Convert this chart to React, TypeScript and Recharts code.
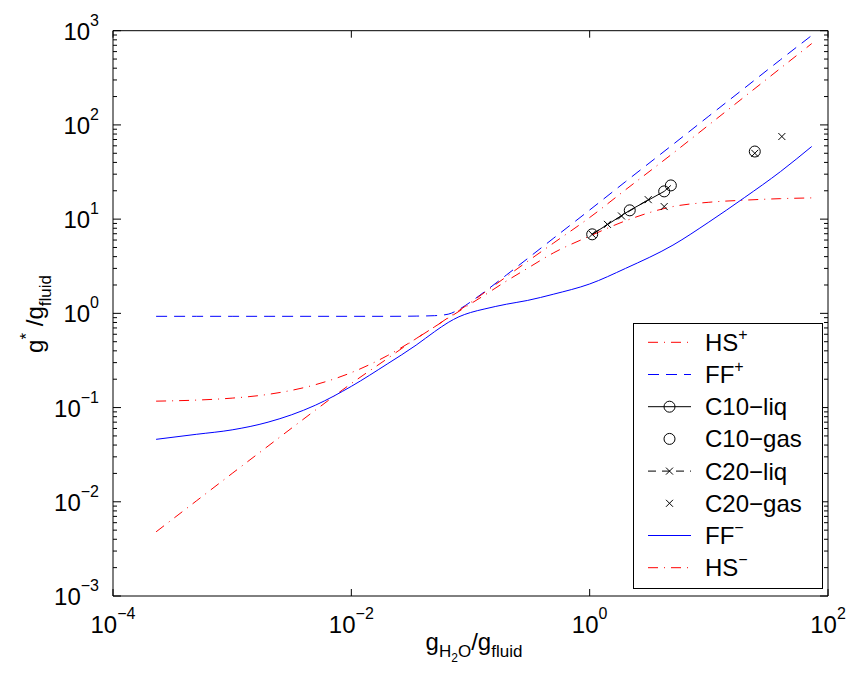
import React from 'react';
import { ComposedChart, Line, Scatter, XAxis, YAxis, Legend, ReferenceArea } from 'recharts';

// ---------- data ----------
const gRatio = [2.3e-4, 5e-4, 1e-3, 2e-3, 5e-3, 0.01, 0.02, 0.035, 0.05, 0.065, 0.08, 0.1, 0.13, 0.2, 0.3, 0.5, 1, 2, 5, 10, 20, 40, 73];
const hsPlus = [0.117, 0.12, 0.126, 0.138, 0.175, 0.235, 0.355, 0.54, 0.72, 0.9, 1.07, 1.3, 1.65, 2.45, 3.55, 5.6, 10.4, 20.5, 50, 100, 200, 400, 730];
const ffPlus = [0.93, 0.93, 0.93, 0.93, 0.93, 0.93, 0.93, 0.935, 0.945, 0.98, 1.1, 1.32, 1.68, 2.55, 3.8, 6.3, 12.5, 25, 62, 124, 247, 493, 890];
const ffMinus = [0.046, 0.052, 0.058, 0.07, 0.106, 0.168, 0.29, 0.46, 0.64, 0.8, 0.92, 1.02, 1.11, 1.25, 1.37, 1.6, 2.05, 3.0, 5.3, 9.3, 17, 32, 59];
const hsMinus = [0.0048, 0.0102, 0.02, 0.039, 0.094, 0.18, 0.33, 0.54, 0.72, 0.89, 1.05, 1.26, 1.55, 2.2, 3.0, 4.4, 6.6, 9.6, 13.6, 15.1, 15.9, 16.5, 16.8];

const c10LiqX = [1.05, 2.17, 4.22, 4.8];
const c10LiqY = [6.9, 12.4, 19.7, 22.8];
const c10GasX = [24.3];
const c10GasY = [52.2];
const c20LiqX = [1.05, 1.41, 1.85, 3.1];
const c20LiqY = [6.9, 8.8, 10.8, 16.1];
const c20GasX = [4.22, 24.3, 41];
const c20GasY = [13.6, 50, 75.3];

const xTicks = [1e-4, 1e-2, 1, 100];
const yDecades = [-3, -2, -1, 0, 1, 2, 3];
const yMinorMult = [1, 2, 3, 4, 5, 6, 7, 8, 9];

const legendLabels = [
  { base: 'HS', sup: '+' },
  { base: 'FF', sup: '+' },
  { base: 'C10\u2212liq', sup: '' },
  { base: 'C10\u2212gas', sup: '' },
  { base: 'C20\u2212liq', sup: '' },
  { base: 'C20\u2212gas', sup: '' },
  { base: 'FF', sup: '\u2212' },
  { base: 'HS', sup: '\u2212' },
];

// ---------- helpers ----------
const toPts = (xs: number[], ys: number[]) => xs.map((x, i) => ({ x, y: ys[i] }));
const yTicks: number[] = [];
yDecades.forEach((d) => {
  yMinorMult.forEach((m) => {
    if (d === 3 && m > 1) return;
    yTicks.push(m * Math.pow(10, d));
  });
});

const FONT = '"Liberation Sans", Arial, Helvetica, sans-serif';
const RED = '#ff0000';
const BLUE = '#0000ff';
const DASHDOT = '10 6 1 6';
const DASHED = '11 7';
const PW = 715;
const PH = 565.3;

const expStr = (v: number) => {
  const e = Math.round(Math.log10(v));
  return e < 0 ? '\u2212' + Math.abs(e) : String(e);
};
const isMajor = (v: number) => Math.abs(Math.log10(v) - Math.round(Math.log10(v))) < 1e-6;

const XTick = (props: any) => {
  const { x, y, payload } = props;
  return (
    <g>
      <line x1={x} x2={x} y1={y} y2={y - 7} stroke="#000" strokeWidth={1} />
      <line x1={x} x2={x} y1={y - PH} y2={y - PH + 7} stroke="#000" strokeWidth={1} />
      <text x={x} y={y + 37} textAnchor="middle" fontFamily={FONT} fontSize={24} fill="#000">
        10<tspan dy={-14} fontSize={16}>{expStr(payload.value)}</tspan>
      </text>
    </g>
  );
};

const YTick = (props: any) => {
  const { x, y, payload } = props;
  const major = isMajor(payload.value);
  const len = major ? 8 : 4;
  return (
    <g>
      <line x1={x} x2={x + len} y1={y} y2={y} stroke="#000" strokeWidth={1} />
      <line x1={x + PW - len} x2={x + PW} y1={y} y2={y} stroke="#000" strokeWidth={1} />
      {major && (
        <text x={x - 14} y={y + 9} textAnchor="end" fontFamily={FONT} fontSize={24} fill="#000">
          10<tspan dy={-14} fontSize={16}>{expStr(payload.value)}</tspan>
        </text>
      )}
    </g>
  );
};

const XLabel = () => (
  <text x={466} y={642} textAnchor="middle" fontFamily={FONT} fontSize={24} fill="#000">
    g<tspan dy={7} fontSize={17}>H</tspan>
    <tspan dy={5} fontSize={12}>2</tspan>
    <tspan dy={-5} fontSize={17}>O</tspan>
    <tspan dy={-7} fontSize={24}>/g</tspan>
    <tspan dy={7} fontSize={17}>fluid</tspan>
  </text>
);

const YLabel = () => (
  <text x={-306} y={35} transform="rotate(-90)" textAnchor="middle" fontFamily={FONT} fontSize={24} fill="#000">
    g<tspan dy={-11} fontSize={17}>*</tspan>
    <tspan dy={11} fontSize={24}> /g</tspan>
    <tspan dy={8} fontSize={17}>fluid</tspan>
  </text>
);

const Circle = (p: any) => (
  <circle cx={p.cx} cy={p.cy} r={5.5} fill="none" stroke="#000" strokeWidth={1} />
);
const Cross = (p: any) => {
  const s = 3.5;
  return (
    <g>
      <line x1={p.cx - s} y1={p.cy - s} x2={p.cx + s} y2={p.cy + s} stroke="#000" strokeWidth={1} />
      <line x1={p.cx - s} y1={p.cy + s} x2={p.cx + s} y2={p.cy - s} stroke="#000" strokeWidth={1} />
    </g>
  );
};

type Entry = { stroke: string; dash?: string; line: boolean; marker?: 'o' | 'x' };
const legendStyles: Entry[] = [
  { stroke: RED, dash: DASHDOT, line: true },
  { stroke: BLUE, dash: DASHED, line: true },
  { stroke: '#000', line: true, marker: 'o' },
  { stroke: '#000', line: false, marker: 'o' },
  { stroke: '#000', dash: '8 6', line: true, marker: 'x' },
  { stroke: '#000', line: false, marker: 'x' },
  { stroke: BLUE, line: true },
  { stroke: RED, dash: DASHDOT, line: true },
];

const LegendBox = () => (
  <svg width={190} height={266} style={{ display: 'block' }}>
    <rect x={0.5} y={0.5} width={189} height={265} fill="#fff" stroke="#000" strokeWidth={1} />
    {legendLabels.map((lab, i) => {
      const st = legendStyles[i];
      const cy = 19.3 + 32.2 * i;
      return (
        <g key={i}>
          {st.line && (
            <line x1={15} x2={58} y1={cy} y2={cy} stroke={st.stroke} strokeWidth={1} strokeDasharray={st.dash} />
          )}
          {st.marker === 'o' && <circle cx={36.5} cy={cy} r={5.5} fill="none" stroke="#000" />}
          {st.marker === 'x' && <Cross cx={36.5} cy={cy} />}
          <text x={72} y={cy + 8.5} fontFamily={FONT} fontSize={24} fill="#000">
            {lab.base}
            {lab.sup && <tspan dy={-11} fontSize={16}>{lab.sup}</tspan>}
          </text>
        </g>
      );
    })}
  </svg>
);

export default function App() {
  return (
    <ComposedChart width={850} height={657} margin={{ top: 22.7, right: 30, bottom: 68, left: 104 }}>
      <XAxis
        dataKey="x"
        type="number"
        scale="log"
        domain={[1e-4, 100]}
        allowDataOverflow
        ticks={xTicks}
        interval={0}
        tickSize={0}
        tickMargin={0}
        tickLine={false}
        axisLine={false}
        height={1}
        tick={<XTick />}
        label={<XLabel />}
      />
      <YAxis
        dataKey="y"
        type="number"
        scale="log"
        domain={[1e-3, 1000]}
        allowDataOverflow
        ticks={yTicks}
        interval={0}
        tickSize={0}
        tickMargin={0}
        tickLine={false}
        axisLine={false}
        width={1}
        tick={<YTick />}
        label={<YLabel />}
      />
      <ReferenceArea x1={1e-4} x2={100} y1={1e-3} y2={1000} fill="none" stroke="#000" strokeWidth={1} ifOverflow="visible" />
      <Line data={toPts(gRatio, hsMinus)} dataKey="y" type="monotone" stroke={RED} strokeWidth={1} strokeDasharray={DASHDOT} dot={false} activeDot={false} isAnimationActive={false} />
      <Line data={toPts(gRatio, ffMinus)} dataKey="y" type="monotone" stroke={BLUE} strokeWidth={1} dot={false} activeDot={false} isAnimationActive={false} />
      <Line data={toPts(gRatio, ffPlus)} dataKey="y" type="monotone" stroke={BLUE} strokeWidth={1} strokeDasharray={DASHED} dot={false} activeDot={false} isAnimationActive={false} />
      <Line data={toPts(gRatio, hsPlus)} dataKey="y" type="monotone" stroke={RED} strokeWidth={1} strokeDasharray={DASHDOT} dot={false} activeDot={false} isAnimationActive={false} />
      <Line data={toPts(c10LiqX, c10LiqY)} dataKey="y" type="linear" stroke="#000" strokeWidth={1} dot={(p: any) => <Circle key={`c10l-${p.index}`} {...p} />} activeDot={false} isAnimationActive={false} />
      <Line data={toPts(c20LiqX, c20LiqY)} dataKey="y" type="linear" stroke="#000" strokeWidth={1} strokeDasharray="8 6" dot={(p: any) => <Cross key={`c20l-${p.index}`} {...p} />} activeDot={false} isAnimationActive={false} />
      <Scatter data={toPts(c10GasX, c10GasY)} shape={(p: any) => <Circle {...p} />} isAnimationActive={false} />
      <Scatter data={toPts(c20GasX, c20GasY)} shape={(p: any) => <Cross {...p} />} isAnimationActive={false} />
      <Legend
        layout="vertical"
        align="center"
        verticalAlign="middle"
        content={() => <LegendBox />}
        wrapperStyle={{ position: 'absolute', left: 625, top: 315, width: 190, height: 266 }}
      />
    </ComposedChart>
  );
}
